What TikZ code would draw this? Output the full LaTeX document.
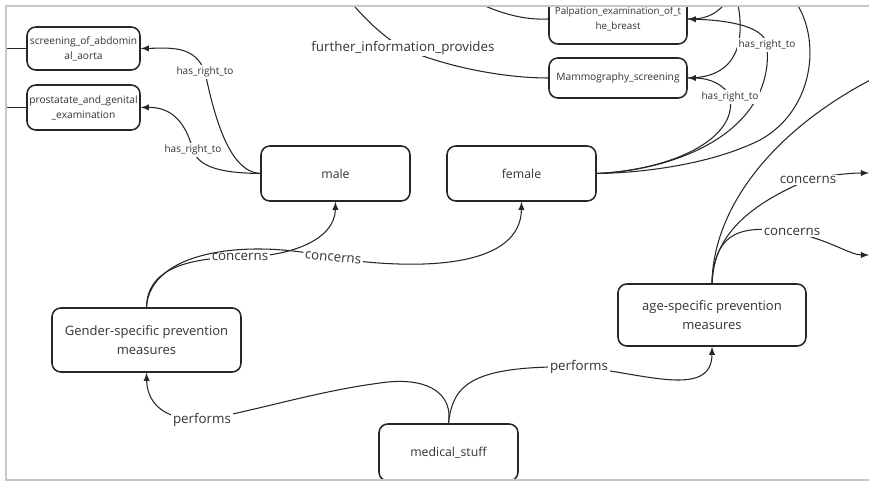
\documentclass[tikz,border=0pt]{standalone}
\usepackage{fontspec}
\setmainfont{Open Sans}
\usetikzlibrary{arrows.meta}

\begin{document}
\begin{tikzpicture}[>=latex, x=0.02cm, y=-0.02cm,
  box/.style={draw=black!85, line width=0.9pt, rounded corners=5pt, fill=white, text=black!80, align=center, inner sep=1pt},
  smallbox/.style={box, minimum width=2.26cm, font=\fontsize{5.8}{8.5}\selectfont},
  rel/.style={draw=black!85, line width=0.6pt},
  lbl/.style={fill=white, inner sep=1pt, text=black!80, font=\fontsize{5.7}{7}\selectfont},
  biglbl/.style={fill=white, inner sep=1pt, text=black!80, font=\fontsize{7.6}{9}\selectfont}]
  \useasboundingbox (0,0) rectangle (869,482);
  \begin{scope}
  \clip (6,6) rectangle (869,480);
  \node[smallbox, minimum height=0.86cm] (scr) at (83.5,48.5) {screening\_of\_abdomin\\al\_aorta};
  \node[smallbox, minimum height=0.9cm] (pro) at (83.5,107.5) {prostatate\_and\_genital\\\_examination};
  \node[smallbox, minimum width=2.76cm, minimum height=1.0cm, font=\fontsize{5.6}{8.5}\selectfont] (pal) at (618,19) {Palpation\_examination\_of\_t\\he\_breast};
  \node[smallbox, minimum width=2.76cm, minimum height=0.8cm] (mam) at (618,78) {Mammography\_screening};
  \node[box, minimum width=2.98cm, minimum height=1.1cm, font=\fontsize{7}{9}\selectfont] (male) at (335.5,173.5) {male};
  \node[box, minimum width=2.98cm, minimum height=1.1cm, font=\fontsize{7}{9}\selectfont] (female) at (521.5,173.5) {female};
  \node[box, minimum width=3.78cm, minimum height=1.28cm, font=\fontsize{7.4}{10.5}\selectfont] (gen) at (146.5,340) {Gender-specific prevention\\measures};
  \node[box, minimum width=3.76cm, minimum height=1.24cm, font=\fontsize{7.4}{10.5}\selectfont] (age) at (712,315) {age-specific prevention\\measures};
  \node[box, minimum width=2.78cm, minimum height=1.14cm, font=\fontsize{7}{9}\selectfont] (med) at (448.5,452.5) {medical\_stuff};

  \coordinate (stubA) at (0,48.5);
  \coordinate (stubB) at (0,107.5);
  \coordinate (topA) at (345,-5);
  \coordinate (topB) at (462,-5);
  \coordinate (topC) at (731,-5);
  \coordinate (topD) at (736,-5);
  \coordinate (topE) at (790,-5);
  \coordinate (rightA) at (880,75);
  \coordinate (rightB) at (869,173);
  \coordinate (rightC) at (869,255);

  \draw[rel, line width=1pt] (stubA) -- (scr.west);
  \draw[rel, line width=1pt] (stubB) -- (pro.west);
  \draw[rel, ->] (male.west) .. controls (230,172) and (215,120) .. (205,72) node[lbl] {has\_right\_to} .. controls (195,45) and (170,48) .. (scr.east);
  \draw[rel, ->] (male.west) .. controls (215,173) and (198,165) .. (193,150) node[lbl] {has\_right\_to} .. controls (185,120) and (170,107) .. (pro.east);
  \draw[rel] (topA) .. controls (365,20) and (385,38) .. (403,48) node[biglbl] {further\_information\_provides} .. controls (440,65) and (500,78) .. (mam.west);
  \draw[rel] (topB) .. controls (500,15) and (525,20) .. (pal.west);
  \draw[rel] (pal.east) .. controls (710,20) and (722,10) .. (topC);
  \draw[rel] (topD) .. controls (748,45) and (735,78) .. (mam.east);
  \draw[rel] (topE) .. controls (822,30) and (818,108) .. (760,140) .. controls (710,165) and (640,173) .. (female.east);
  \draw[rel, ->] (female.east) .. controls (680,170) and (775,130) .. (767,45) node[lbl] {has\_right\_to} .. controls (764,24) and (720,20) .. (pal.east);
  \draw[rel, ->] (female.east) .. controls (670,170) and (738,140) .. (730,97) node[lbl] {has\_right\_to} .. controls (725,85) and (710,78) .. (mam.east);
  \draw[rel, ->] (gen.north) .. controls (147,270) and (185,258) .. (240,257) node[biglbl] {concerns} .. controls (290,257) and (335,240) .. (male.south);
  \draw[rel, ->] (gen.north) .. controls (150,250) and (250,238) .. (333,258) node[biglbl, rotate=-6] {concerns} .. controls (430,272) and (521,265) .. (female.south);
  \draw[rel] (age.north) .. controls (713,210) and (770,130) .. (rightA);
  \draw[rel, ->] (age.north) .. controls (713,230) and (760,200) .. (808,180) node[biglbl] {concerns} .. controls (830,175) and (850,173) .. (rightB);
  \draw[rel, ->] (age.north) .. controls (715,240) and (730,222) .. (792,232) node[biglbl] {concerns} .. controls (830,240) and (850,255) .. (rightC);
  \draw[rel, ->] (med.north) .. controls (453,395) and (430,378) .. (388,382) .. controls (320,390) and (260,410) .. (202,420) node[biglbl] {performs} .. controls (160,420) and (147,400) .. (gen.south);
  \draw[rel, ->] (med.north) .. controls (453,385) and (470,365) .. (579,367) node[biglbl] {performs} .. controls (640,372) and (712,400) .. (age.south);
  \end{scope}
  \draw[black!22, line width=1.2pt] (869,6) -- (6,6) -- (6,480) -- (869,480);
\end{tikzpicture}
\end{document}
